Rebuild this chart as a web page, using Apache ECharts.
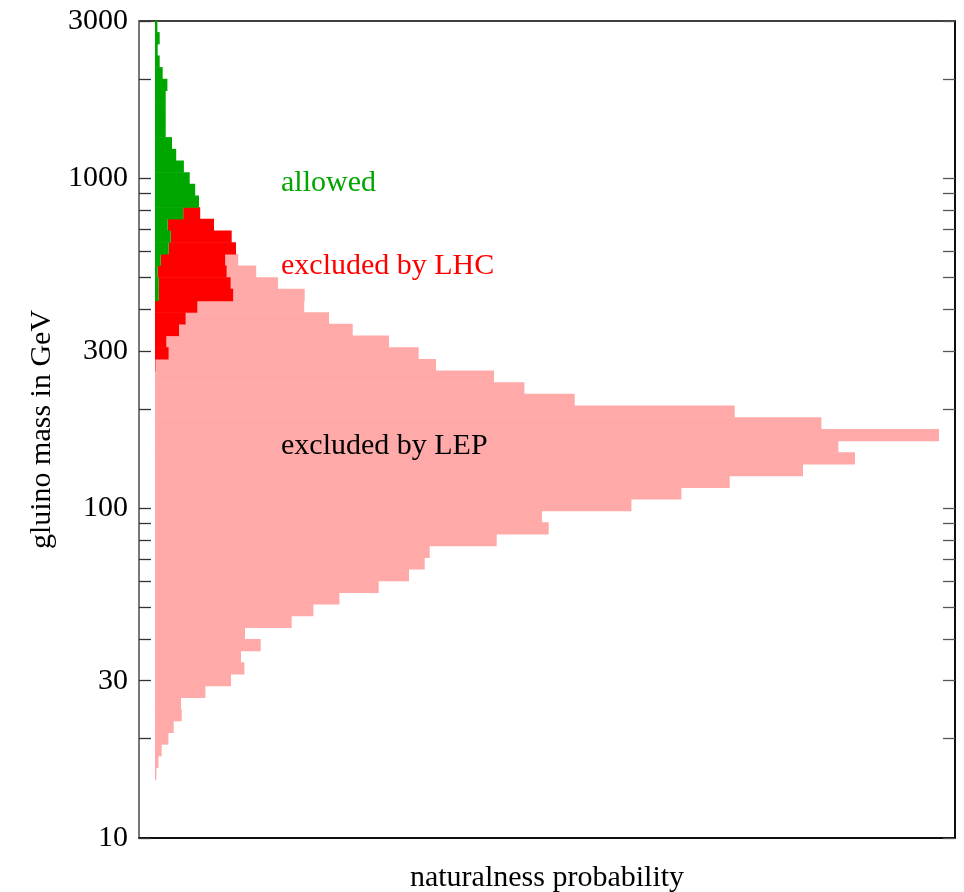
<!DOCTYPE html>
<html>
<head>
<meta charset="utf-8">
<script src="https://cdn.jsdelivr.net/npm/echarts@6/dist/echarts.min.js"></script>
<style>
  html, body { margin: 0; padding: 0; background: #fff; }
  #chart { width: 964px; height: 892px; }
</style>
</head>
<body>
<div id="chart"></div>
<script>
// Gluino mass bins (GeV): 70 logarithmic bins from 10 to 3000, listed as edges
const massEdges = [
  10, 10.85, 11.77, 12.77, 13.85, 15.03, 16.30, 17.69, 19.19, 20.82,
  22.59, 24.50, 26.58, 28.84, 31.29, 33.95, 36.83, 39.95, 43.34, 47.02,
  51.02, 55.35, 60.05, 65.15, 70.68, 76.68, 83.19, 90.25, 97.91, 106.2,
  115.2, 125.0, 135.6, 147.2, 159.7, 173.2, 187.9, 203.9, 221.2, 240.0,
  260.3, 282.4, 306.4, 332.4, 360.6, 391.2, 424.4, 460.4, 499.5, 541.9,
  587.9, 637.8, 691.9, 750.7, 814.4, 883.5, 958.5, 1040, 1128, 1224,
  1328, 1441, 1563, 1696, 1840, 1996, 2165, 2349, 2548, 2765, 3000
];

// Naturalness probability per mass bin (arbitrary units), lowest bin first
const allowed = [
  0, 0, 0, 0, 0, 0, 0, 0, 0, 0,
  0, 0, 0, 0, 0, 0, 0, 0, 0, 0,
  0, 0, 0, 0, 0, 0, 0, 0, 0, 0,
  0, 0, 0, 0, 0, 0, 0, 0, 0, 0,
  0, 0, 0, 0, 0, 0, 3.7, 3.7, 2.7, 5.7,
  13.7, 15.7, 12.7, 28.2, 44.0, 40.2, 34.7, 28.9, 21.2, 17.0,
  10.7, 10.7, 10.7, 10.7, 12.4, 7.7, 4.7, 2.7, 4.7, 2.4
];
const excludedLHC = [
  0, 0, 0, 0, 0, 0, 0, 0, 0, 0,
  0, 0, 0, 0, 0, 0, 0, 0, 0, 0,
  0, 0, 0, 0, 0, 0, 0, 0, 0, 0,
  0, 0, 0, 0, 0, 0, 0, 0, 0, 0,
  0.5, 13.7, 11.4, 24.0, 30.7, 42.4, 74.5, 72.0, 69.0, 64.5,
  67.3, 61.0, 46.3, 17.0, 0, 0, 0, 0, 0, 0,
  0, 0, 0, 0, 0, 0, 0, 0, 0, 0
];
const excludedLEP = [
  0, 0, 0, 0, 0, 1.4, 3.4, 6.7, 13.4, 18.7,
  26.7, 26.0, 50.4, 76.0, 89.4, 86.0, 105.7, 90.0, 136.7, 158.4,
  184.4, 223.7, 254.0, 269.7, 274.7, 341.7, 393.7, 387.0, 476.4, 526.4,
  574.7, 648.0, 700.0, 683.4, 784.0, 666.4, 579.7, 419.7, 369.4, 339.0,
  280.5, 250.0, 222.6, 173.7, 143.3, 106.8, 71.5, 47.3, 29.5, 13.0,
  0, 0, 0, 0, 0, 0, 0, 0, 0, 0,
  0, 0, 0, 0, 0, 0, 0, 0, 0, 0
];

// Mass-axis ticks and labels
const massTicks = [10, 20, 30, 40, 50, 60, 70, 80, 90, 100, 200, 300, 400, 500, 600, 700, 800, 900, 1000, 2000, 3000];
const massLabels = [10, 30, 100, 300, 1000, 3000];

const FONT = '"Liberation Serif", "Times New Roman", Times, serif';
const GREEN = '#00a600';
const RED = '#ff0000';
const PINK = '#ffa9a9';

// Stack the three contributions side by side within each mass bin
function stackedBins(parts, layer) {
  const rows = [];
  for (let i = 0; i < massEdges.length - 1; i++) {
    let start = 0;
    for (let j = 0; j < layer; j++) start += parts[j][i];
    rows.push([massEdges[i], massEdges[i + 1], start, start + parts[layer][i]]);
  }
  return rows;
}
const parts = [allowed, excludedLHC, excludedLEP];

function binRect(color) {
  return function (params, api) {
    const x0 = api.value(2), x1 = api.value(3);
    if (!(x1 > x0)) return null;
    const lo = api.coord([x0, api.value(0)]);
    const hi = api.coord([x1, api.value(1)]);
    return {
      type: 'rect',
      shape: { x: lo[0], y: hi[1] - 0.6, width: hi[0] - lo[0], height: lo[1] - hi[1] + 0.6 },
      style: { fill: color }
    };
  };
}

function binSeries(name, layer, color, z) {
  return {
    name: name,
    type: 'custom',
    renderItem: binRect(color),
    data: stackedBins(parts, layer),
    encode: { x: [2, 3], y: [0, 1] },
    z: z,
    silent: true
  };
}

const chart = echarts.init(document.getElementById('chart'), null, { renderer: 'canvas' });

chart.setOption({
  animation: false,
  backgroundColor: '#ffffff',
  grid: {
    left: 139, right: 9, top: 21, bottom: 54,
    outerBoundsMode: 'none',
    show: true, borderColor: '#000', borderWidth: 1.5, backgroundColor: 'transparent'
  },
  xAxis: {
    type: 'value',
    min: -16, max: 800,
    axisLine: { show: true, onZero: false, lineStyle: { color: '#000', width: 1.5 } },
    axisTick: { show: false },
    axisLabel: { show: false },
    splitLine: { show: false },
    name: 'naturalness probability',
    nameLocation: 'middle',
    nameGap: 25,
    nameTextStyle: { fontFamily: FONT, fontSize: 30, color: '#000' }
  },
  yAxis: [
    {
      type: 'log', logBase: 10, min: 10, max: 3000,
      position: 'left',
      axisLine: { show: true, onZero: false, lineStyle: { color: '#777', width: 2 } },
      axisTick: { show: true, inside: true, length: 12, customValues: massTicks, lineStyle: { color: '#333', width: 1.3 } },
      minorTick: { show: false },
      axisLabel: {
        show: true, customValues: massLabels, fontFamily: FONT, fontSize: 30, color: '#000', margin: 11,
        padding: [6, 0, 0, 0],
        formatter: function (v) { return String(Math.round(v)); }
      },
      splitLine: { show: false },
      name: 'gluino mass in GeV',
      nameLocation: 'middle',
      nameGap: 78,
      nameRotate: 90,
      nameTextStyle: { fontFamily: FONT, fontSize: 30, color: '#000' }
    },
    {
      type: 'log', logBase: 10, min: 10, max: 3000,
      position: 'right',
      axisLine: { show: true, onZero: false, lineStyle: { color: '#000', width: 1.5 } },
      axisTick: { show: true, inside: true, length: 12, customValues: massTicks, lineStyle: { color: '#555', width: 1.3 } },
      minorTick: { show: false },
      axisLabel: { show: false },
      splitLine: { show: false }
    }
  ],
  series: [
    binSeries('excluded by LEP', 2, PINK, 2),
    binSeries('excluded by LHC', 1, RED, 3),
    binSeries('allowed', 0, GREEN, 4)
  ],
  graphic: [
    { type: 'text', x: 281, y: 183, z: 10, style: { text: 'allowed', fill: GREEN, font: '30px ' + FONT, verticalAlign: 'middle' } },
    { type: 'text', x: 281, y: 266, z: 10, style: { text: 'excluded by LHC', fill: RED, font: '30px ' + FONT, verticalAlign: 'middle' } },
    { type: 'text', x: 281, y: 446, z: 10, style: { text: 'excluded by LEP', fill: '#000', font: '30px ' + FONT, verticalAlign: 'middle' } }
  ]
});
</script>
</body>
</html>
